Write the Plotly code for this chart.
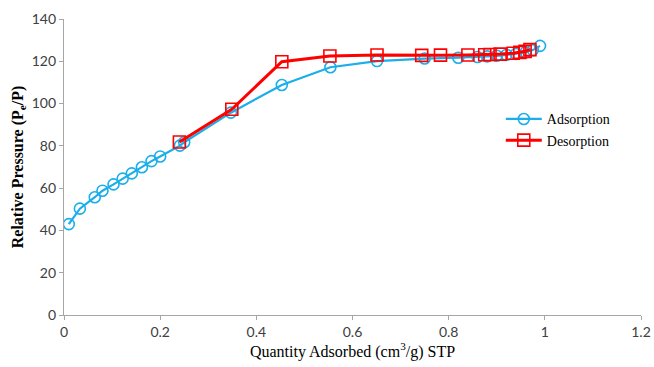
import plotly.graph_objects as go

ads_x = [0.010, 0.033, 0.064, 0.080, 0.103, 0.122, 0.141, 0.162, 0.182, 0.200, 0.241, 0.250,
         0.347, 0.453, 0.554, 0.651, 0.750, 0.820, 0.860, 0.880, 0.900, 0.920, 0.940, 0.960,
         0.975, 0.990]
ads_y = [43.0, 50.3, 55.7, 58.8, 61.8, 64.5, 67.0, 69.9, 72.8, 75.0, 80.1, 81.7,
         95.7, 108.8, 117.2, 120.1, 121.3, 121.7, 122.0, 122.3, 122.6, 123.0, 123.5, 124.3,
         125.3, 127.3]

des_x = [0.240, 0.349, 0.453, 0.553, 0.651, 0.744, 0.783, 0.840, 0.875, 0.886, 0.907,
         0.934, 0.948, 0.959, 0.969]
des_y = [81.8, 97.3, 119.8, 122.5, 123.0, 122.8, 122.9, 123.0, 123.1, 123.2, 123.4,
         123.8, 124.2, 124.7, 125.5]

x_ticks = [0, 0.2, 0.4, 0.6, 0.8, 1, 1.2]
y_ticks = [0, 20, 40, 60, 80, 100, 120, 140]

fig = go.Figure()
fig.add_trace(go.Scatter(
    x=ads_x, y=ads_y, mode="lines+markers", name="Adsorption",
    line=dict(color="#1AAEEA", width=2.2),
    marker=dict(symbol="circle-open", size=11, color="#1AAEEA", line=dict(width=1.6)),
))
fig.add_trace(go.Scatter(
    x=des_x, y=des_y, mode="lines+markers", name="Desorption",
    line=dict(color="#FF0000", width=3),
    marker=dict(symbol="square-open", size=12, color="#FF0000", line=dict(width=1.6)),
))

axis_common = dict(
    showgrid=False, zeroline=False, showline=True, linecolor="#A6A6A6", linewidth=1.3,
    ticks="outside", tickcolor="#A6A6A6", ticklen=4, automargin=False,
    tickfont=dict(family="Lato, Open Sans, sans-serif", size=14, color="#404040"),
)

fig.update_layout(
    width=654, height=367,
    margin=dict(l=64, r=13, t=19, b=52),
    paper_bgcolor="white", plot_bgcolor="white",
    xaxis=dict(range=[0, 1.2], tickvals=x_ticks, ticktext=[str(v) for v in x_ticks],
               title=dict(text="Quantity Adsorbed (cm<sup>3</sup>/g) STP",
                          font=dict(family="Liberation Serif, Times New Roman, serif", size=16, color="black"),
                          standoff=6),
               **axis_common),
    yaxis=dict(range=[0, 140], tickvals=y_ticks,
               title=dict(text="<b>Relative Pressure (P<sub>e</sub>/P)</b>",
                          font=dict(family="Liberation Serif, Times New Roman, serif", size=16, color="black"),
                          standoff=4),
               **axis_common),
    legend=dict(x=0.757, y=0.715, xanchor="left", yanchor="top", bgcolor="rgba(0,0,0,0)",
                font=dict(family="Liberation Serif, Times New Roman, serif", size=14, color="black"),
                itemwidth=36, tracegroupgap=0),
    showlegend=True,
)

fig.write_html("out.html")
